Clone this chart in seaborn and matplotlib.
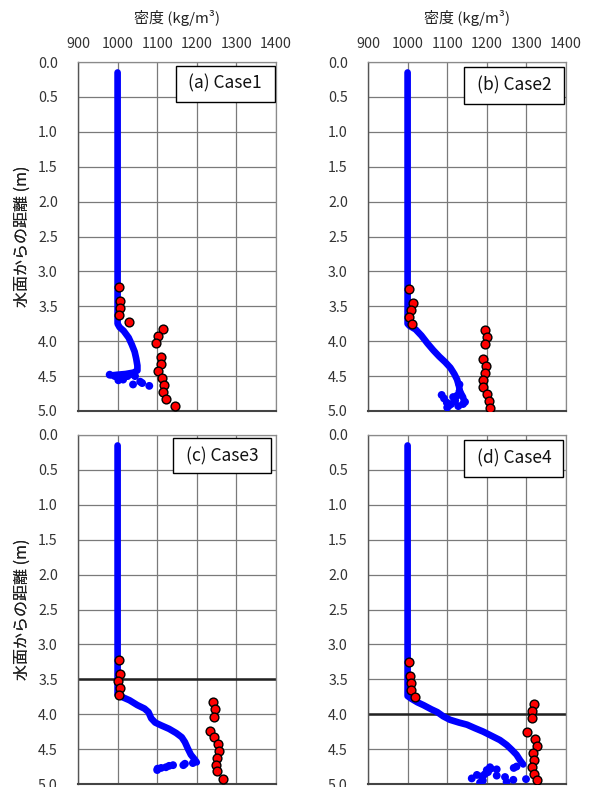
import numpy as np
import pandas as pd
import seaborn as sns
import matplotlib.pyplot as plt
from matplotlib.patches import Rectangle

# --- blue trace (measured density profile) for each case: (density, depth) ---
case1_line_x = [1000, 1000, 1005, 1015, 1028, 1036, 1043, 1047, 1050, 1050, 1040, 1020, 1000, 985]
case1_line_y = [0.15, 3.75, 3.80, 3.85, 3.95, 4.05, 4.15, 4.25, 4.35, 4.42, 4.45, 4.47, 4.48, 4.49]
case1_dots_x = [980, 993, 1005, 1002, 1014, 1025, 1035, 1039, 1057, 1062, 1080, 1044]
case1_dots_y = [4.48, 4.50, 4.52, 4.56, 4.55, 4.50, 4.47, 4.62, 4.58, 4.60, 4.64, 4.50]

case2_line_x = [1000, 1000, 1005, 1020, 1035, 1050, 1065, 1080, 1095, 1108, 1118, 1125, 1130, 1132, 1140, 1143]
case2_line_y = [0.15, 3.75, 3.78, 3.83, 3.92, 4.03, 4.13, 4.22, 4.30, 4.38, 4.47, 4.55, 4.65, 4.72, 4.80, 4.87]
case2_dots_x = [1086, 1092, 1099, 1100, 1110, 1120, 1125, 1131, 1140, 1115, 1105, 1128, 1131, 1145]
case2_dots_y = [4.77, 4.82, 4.88, 4.95, 4.90, 4.85, 4.78, 4.72, 4.90, 4.80, 4.92, 4.93, 4.62, 4.87]

case3_line_x = [1000, 1000, 1010, 1030, 1050, 1068, 1078, 1085, 1095, 1110, 1130, 1148, 1162, 1170, 1178, 1185, 1195, 1200]
case3_line_y = [0.15, 3.72, 3.75, 3.80, 3.87, 3.92, 3.97, 4.06, 4.12, 4.16, 4.21, 4.27, 4.33, 4.40, 4.50, 4.58, 4.65, 4.69]
case3_dots_x = [1190, 1170, 1166, 1140, 1130, 1122, 1110, 1100, 1101]
case3_dots_y = [4.70, 4.71, 4.73, 4.73, 4.74, 4.76, 4.77, 4.80, 4.78]

case4_line_x = [1000, 1000, 1010, 1025, 1040, 1060, 1075, 1090, 1107, 1130, 1150, 1170, 1191, 1212, 1233, 1250, 1263, 1275, 1284, 1292]
case4_line_y = [0.15, 3.74, 3.78, 3.83, 3.87, 3.93, 3.97, 4.03, 4.08, 4.12, 4.15, 4.20, 4.25, 4.31, 4.37, 4.44, 4.51, 4.58, 4.66, 4.72]
case4_dots_x = [1275, 1268, 1200, 1210, 1225, 1225, 1246, 1267, 1299, 1187, 1175, 1162, 1183, 1195, 1203, 1190, 1208, 1250]
case4_dots_y = [4.75, 4.77, 4.80, 4.78, 4.79, 4.88, 4.90, 4.94, 4.93, 4.89, 4.87, 4.92, 4.98, 4.86, 4.83, 4.95, 4.76, 4.97]

# --- red points (sampled density) ---
case1_red_x = [1003, 1005, 1005, 1004, 1029, 1114, 1103, 1096, 1110, 1110, 1103, 1112, 1118, 1115, 1122, 1145]
case1_red_y = [3.22, 3.43, 3.53, 3.63, 3.73, 3.83, 3.93, 4.03, 4.23, 4.33, 4.43, 4.53, 4.63, 4.73, 4.83, 4.93]
case2_red_x = [1003, 1014, 1008, 1004, 1010, 1195, 1201, 1195, 1190, 1198, 1195, 1191, 1190, 1200, 1206, 1208]
case2_red_y = [3.25, 3.45, 3.55, 3.65, 3.75, 3.84, 3.94, 4.04, 4.25, 4.35, 4.45, 4.55, 4.65, 4.75, 4.85, 4.95]
case3_red_x = [1003, 1005, 1000, 1006, 1003, 1242, 1246, 1244, 1233, 1243, 1253, 1257, 1250, 1248, 1252, 1267]
case3_red_y = [3.22, 3.43, 3.53, 3.63, 3.72, 3.83, 3.93, 4.04, 4.24, 4.33, 4.43, 4.53, 4.63, 4.73, 4.82, 4.93]
case4_red_x = [1003, 1005, 1008, 1008, 1018, 1319, 1313, 1315, 1302, 1322, 1328, 1316, 1320, 1313, 1318, 1326]
case4_red_y = [3.25, 3.45, 3.56, 3.65, 3.75, 3.85, 3.95, 4.05, 4.25, 4.35, 4.46, 4.55, 4.66, 4.75, 4.85, 4.94]

case_labels = ['(a) Case1', '(b) Case2', '(c) Case3', '(d) Case4']
x_ticks = [900, 1000, 1100, 1200, 1300, 1400]
y_ticks = [0.0, 0.5, 1.0, 1.5, 2.0, 2.5, 3.0, 3.5, 4.0, 4.5, 5.0]
dark_lines = [None, None, 3.5, 4.0]

sns.set_style('white')
plt.rcParams['font.family'] = ['Noto Sans CJK JP', 'DejaVu Sans']

fig = plt.figure(figsize=(5.9, 7.87), dpi=100)
W, H = 590, 787
boxes = [(78, 62), (368, 62), (78, 435), (368, 435)]
aw, ah = 198, 349

cases = [
    (case1_line_x, case1_line_y, case1_dots_x, case1_dots_y, case1_red_x, case1_red_y),
    (case2_line_x, case2_line_y, case2_dots_x, case2_dots_y, case2_red_x, case2_red_y),
    (case3_line_x, case3_line_y, case3_dots_x, case3_dots_y, case3_red_x, case3_red_y),
    (case4_line_x, case4_line_y, case4_dots_x, case4_dots_y, case4_red_x, case4_red_y),
]
label_rects = [(0.493, 0.886, 0.50, 0.103), (0.485, 0.880, 0.505, 0.107),
               (0.481, 0.890, 0.493, 0.100), (0.487, 0.880, 0.500, 0.105)]

for i, (lx, ly, dx, dy, rx, ry) in enumerate(cases):
    left, top = boxes[i]
    ax = fig.add_axes([left / W, 1 - (top + ah) / H, aw / W, ah / H])

    sns.lineplot(x=lx, y=ly, sort=False, estimator=None, ax=ax, color='#0000FF',
                 lw=4.8, solid_capstyle='round', solid_joinstyle='round', zorder=3)
    sns.scatterplot(x=dx, y=dy, ax=ax, color='#0000FF', s=32, edgecolor='none', zorder=3)
    sns.scatterplot(x=rx, y=ry, ax=ax, color='#FF0000', s=40, edgecolor='black',
                    linewidth=1.0, zorder=4)

    ax.set_xlim(900, 1400)
    ax.set_ylim(5.0, 0.0)
    ax.set_xticks(x_ticks)
    ax.set_yticks(y_ticks)
    ax.set_yticklabels([f'{v:.1f}' for v in y_ticks])
    ax.grid(True, color='#7a7a7a', lw=0.9)
    ax.set_axisbelow(True)
    if dark_lines[i] is not None:
        ax.axhline(dark_lines[i], color='#222222', lw=1.8, zorder=1)

    ax.xaxis.tick_top()
    ax.tick_params(axis='both', length=0, labelsize=10.3, colors='#333333')
    ax.tick_params(axis='x', pad=8)
    ax.tick_params(axis='y', pad=14.5)
    if i >= 2:
        ax.set_xticklabels([])

    for side in ['top', 'right']:
        ax.spines[side].set_color('#8a8a8a')
        ax.spines[side].set_linewidth(0.9)
    ax.spines['left'].set_color('#555555')
    ax.spines['left'].set_linewidth(1.0)
    ax.spines['bottom'].set_color('#444444')
    ax.spines['bottom'].set_linewidth(1.5)

    rx0, ry0, rw, rh = label_rects[i]
    ax.add_patch(Rectangle((rx0, ry0), rw, rh, transform=ax.transAxes, facecolor='white',
                           edgecolor='black', lw=1.0, zorder=6))
    ax.text(rx0 + rw / 2, ry0 + rh / 2, case_labels[i], transform=ax.transAxes,
            ha='center', va='center', fontsize=12.5, color='#111111', zorder=7)

    ax.set_xlabel('')
    ax.set_ylabel('')

    # axis titles
    cy = top + ah / 2
    fig.text(22 / W, 1 - cy / H, '水面からの距離 (m)', rotation=90, ha='center',
             va='center', fontsize=11.5, color='#222222')
    if i < 2:
        fig.text((left + aw / 2) / W, 1 - 18 / H, '密度 (kg/m³)', ha='center',
                 va='center', fontsize=10.8, color='#222222')

fig.savefig('out.png', dpi=100)
